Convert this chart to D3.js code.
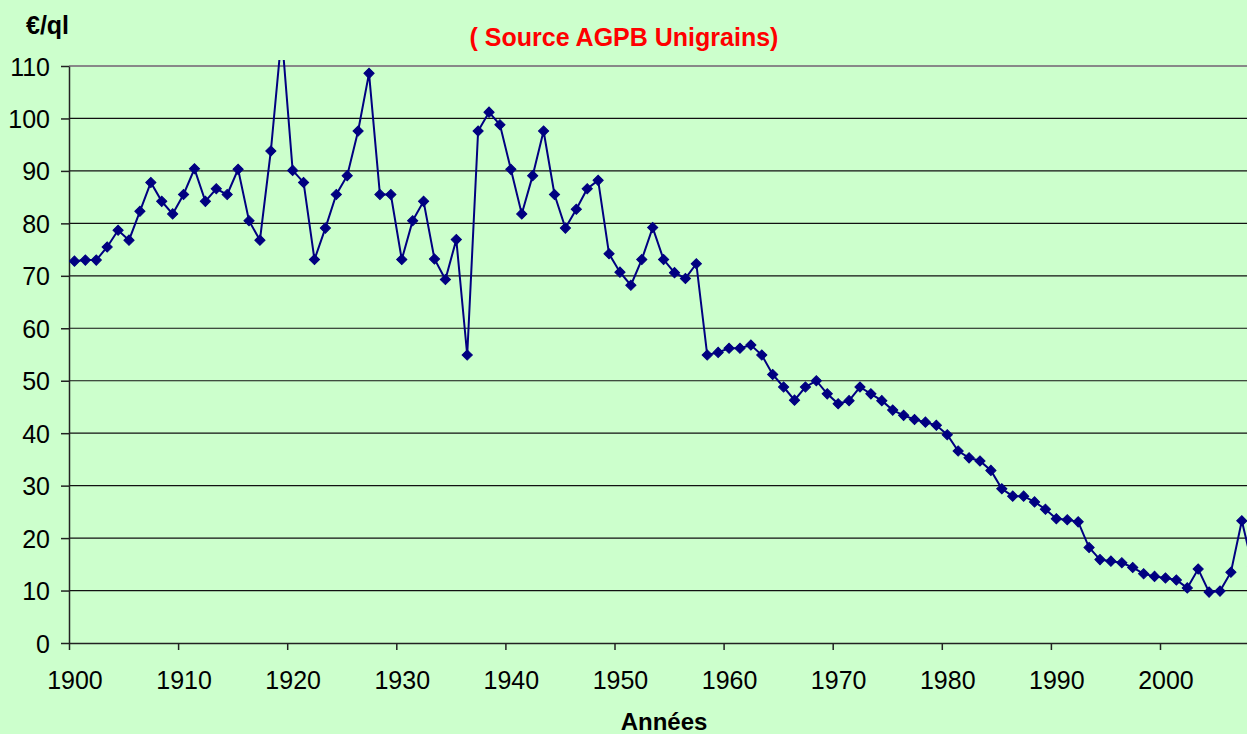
<!DOCTYPE html>
<html lang="fr">
<head>
<meta charset="UTF-8">
<title>Prix du blé 1900-2008</title>
<script src="https://d3js.org/d3.v7.min.js"></script>
<style>
    body {
        margin: 0;
        padding: 0;
        background: #ccffcc;
        font-family: 'Liberation Sans', Arial, sans-serif;
    }
    svg { display: block; }
    .axis text { font-size: 25px; fill: #000; font-family: 'Liberation Sans', Arial, sans-serif; }
    .axis path, .axis line { stroke: #222; stroke-width: 1.5; }
</style>
</head>
<body>
<div id="chart"></div>
<script>
    // categories: one value per year
    const years = d3.range(1900, 2009);

    // price in €/quintal (constant euros)
    const prices = [
        72.8, 73.0, 73.0, 75.5, 78.7, 76.8, 82.3, 87.8, 84.2, 81.8,
        85.5, 90.4, 84.2, 86.6, 85.5, 90.3, 80.5, 76.8, 93.8, 116.0,
        90.1, 87.8, 73.1, 79.1, 85.5, 89.1, 97.6, 108.6, 85.5, 85.5,
        73.1, 80.5, 84.2, 73.2, 69.3, 76.9, 54.9, 97.6, 101.2, 98.8,
        90.3, 81.8, 89.1, 97.6, 85.5, 79.1, 82.7, 86.6, 88.2, 74.2,
        70.7, 68.2, 73.1, 79.2, 73.1, 70.6, 69.5, 72.3, 54.9, 55.4,
        56.2, 56.2, 56.8, 54.9, 51.2, 48.8, 46.3, 48.8, 50.0, 47.5,
        45.6, 46.2, 48.8, 47.5, 46.2, 44.4, 43.4, 42.6, 42.1, 41.5,
        39.7, 36.6, 35.3, 34.7, 32.9, 29.4, 28.0, 28.0, 26.9, 25.5,
        23.7, 23.5, 23.1, 18.2, 15.9, 15.6, 15.3, 14.4, 13.2, 12.7,
        12.4, 12.0, 10.5, 14.1, 9.7, 9.9, 13.5, 23.3, 14.5
    ];

    const yTicks = [0, 10, 20, 30, 40, 50, 60, 70, 80, 90, 100, 110];
    const xTicks = [1900, 1910, 1920, 1930, 1940, 1950, 1960, 1970, 1980, 1990, 2000];

    const data = years.map((yr, i) => ({ year: yr, value: prices[i] }));

    const width = 1247, height = 734;
    const plotLeft = 69, plotTop = 66, plotBottom = 643;

    const x = d3.scaleLinear()
        .domain([1900, 2008])
        .range([plotLeft, plotLeft + 108 * 10.91]);
    const y = d3.scaleLinear()
        .domain([0, 110])
        .range([plotBottom, plotTop]);

    const half = (x(1901) - x(1900)) / 2;

    const svg = d3.select("#chart").append("svg")
        .attr("width", width)
        .attr("height", height);

    svg.append("rect")
        .attr("width", width)
        .attr("height", height)
        .attr("fill", "#ccffcc");

    svg.append("clipPath").attr("id", "plot")
        .append("rect")
        .attr("x", plotLeft)
        .attr("y", 60)
        .attr("width", width - plotLeft)
        .attr("height", plotBottom - 60);

    // horizontal grid
    svg.append("g")
        .selectAll("line")
        .data(yTicks.filter(d => d > 0))
        .join("line")
        .attr("x1", plotLeft)
        .attr("x2", width)
        .attr("y1", d => y(d))
        .attr("y2", d => y(d))
        .attr("stroke", d => d === 110 ? "#888" : "#111")
        .attr("stroke-width", d => d === 110 ? 2.2 : 1.2);

    // y axis
    svg.append("g")
        .attr("class", "axis")
        .attr("transform", `translate(${plotLeft},0)`)
        .call(d3.axisLeft(y).tickValues(yTicks).tickSize(8).tickSizeOuter(0).tickPadding(11))
        .call(g => g.selectAll("text").attr("dy", "0.36em"));

    // x axis: ticks at the year boundaries, labels centred on the category
    const xAxis = svg.append("g")
        .attr("class", "axis")
        .attr("transform", `translate(0,${plotBottom})`)
        .call(d3.axisBottom(x).tickValues(xTicks).tickSize(7).tickSizeOuter(0).tickFormat(d3.format("d")));
    xAxis.selectAll("text")
        .attr("x", half)
        .attr("y", 46)
        .attr("dy", 0);

    const plot = svg.append("g").attr("clip-path", "url(#plot)");

    const line = d3.line()
        .x(d => x(d.year + 0.5))
        .y(d => y(d.value));

    plot.append("path")
        .datum(data)
        .attr("d", line)
        .attr("fill", "none")
        .attr("stroke", "#000080")
        .attr("stroke-width", 2);

    const diamond = d3.symbol().type(d3.symbolSquare).size(52);
    plot.selectAll(".pt")
        .data(data)
        .join("path")
        .attr("class", "pt")
        .attr("d", diamond)
        .attr("transform", d => `translate(${x(d.year + 0.5)},${y(d.value)}) rotate(45)`)
        .attr("fill", "#000080")
        .attr("stroke", "#000080")
        .attr("stroke-width", 1);

    // titles
    svg.append("text")
        .attr("x", 26)
        .attr("y", 34)
        .attr("font-size", 25)
        .attr("font-weight", "bold")
        .text("€/ql");

    svg.append("text")
        .attr("x", 624)
        .attr("y", 46)
        .attr("text-anchor", "middle")
        .attr("font-size", 25)
        .attr("font-weight", "bold")
        .attr("fill", "#ff0000")
        .text("( Source AGPB Unigrains)");

    svg.append("text")
        .attr("x", 664)
        .attr("y", 730)
        .attr("text-anchor", "middle")
        .attr("font-size", 24)
        .attr("font-weight", "bold")
        .text("Années");
</script>
</body>
</html>
